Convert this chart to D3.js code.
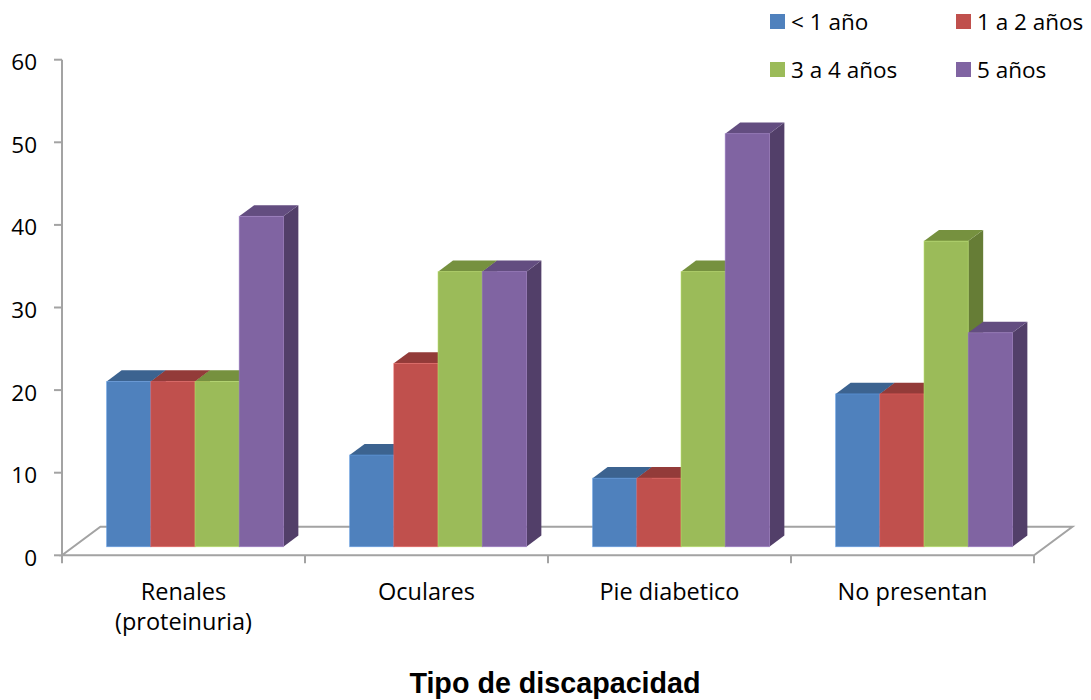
<!DOCTYPE html>
<html><head><meta charset="utf-8">
<script src="https://cdn.jsdelivr.net/npm/d3@7"></script>
<style>body{margin:0;background:#fff} svg{display:block}</style>
</head><body><svg id="c" width="1091" height="700"></svg>
<script>
// ---- data ----
const categories = ["Renales\n(proteinuria)", "Oculares", "Pie diabetico", "No presentan"];
const seriesNames = ["< 1 año", "1 a 2 años", "3 a 4 años", "5 años"];
const lessThan1 = [20, 11.1, 8.3, 18.5];
const from1to2 = [20, 22.2, 8.3, 18.5];
const from3to4 = [20, 33.3, 33.3, 37.0];
const years5 = [40, 33.3, 50, 25.9];
const yTicks = [0, 10, 20, 30, 40, 50, 60];
const axisTitle = "Tipo de discapacidad";

const seriesValues = [lessThan1, from1to2, from3to4, years5];
const frontCols = ["#4F81BD", "#C0504D", "#9BBB59", "#8064A2"];
const topCols = ["#3C6390", "#933B39", "#76913F", "#634D80"];
const sideCols = ["#375A84", "#863634", "#667D36", "#523F69"];

const svg = d3.select("#c");
const FONT = "'Open Sans', 'DejaVu Sans', sans-serif";

// geometry
const DX = 38.4, DY = 28.6;       // floor depth offset
const f0 = 0.30, f1 = 0.69;        // bar depth range (fraction of floor depth)

const y = d3.scaleLinear().domain([0, 60]).range([555.3, 59.7]);
const x = d3.scaleBand().domain(categories).range([62, 1034]).padding(0);
const xs = d3.scaleBand().domain(seriesNames).range([0, x.bandwidth()]).paddingInner(0).paddingOuter(0.75);

const grey = "#A3A3A3";

// floor
const fl = [[62, y(0)], [1034, y(0)], [1034 + DX, y(0) - DY], [62 + DX, y(0) - DY]];
svg.append("path").attr("d", "M" + fl.join("L") + "Z")
  .attr("fill", "none").attr("stroke", grey).attr("stroke-width", 2);

// y axis
svg.append("line").attr("x1", 62).attr("x2", 62).attr("y1", y(60)).attr("y2", y(0))
  .attr("stroke", grey).attr("stroke-width", 2);
const yt = svg.append("g");
yTicks.forEach(t => {
  yt.append("line").attr("x1", 54).attr("x2", 62).attr("y1", y(t)).attr("y2", y(t))
    .attr("stroke", grey).attr("stroke-width", 2);
  yt.append("text").attr("x", 37).attr("y", y(t) + 10.5).attr("text-anchor", "end")
    .attr("font-family", FONT).attr("font-size", 22.5).attr("fill", "#000").text(t);
});

// category ticks
const bounds = categories.map(c => x(c)).concat([x.range()[1]]);
bounds.forEach(b => {
  svg.append("line").attr("x1", b).attr("x2", b).attr("y1", y(0)).attr("y2", y(0) + 8)
    .attr("stroke", grey).attr("stroke-width", 2);
});

// bars
const bw = xs.bandwidth();
const ddx = (f1 - f0) * DX, ddy = (f1 - f0) * DY;
const bars = svg.append("g");
categories.forEach((c, ci) => {
  seriesNames.forEach((s, si) => {
    const v = seriesValues[si][ci];
    const L = x(c) + xs(s) + f0 * DX;
    const R = L + bw;
    const B = y(0) - f0 * DY;
    const T = y(v) - f0 * DY;
    // side
    bars.append("path").attr("d", `M${R},${B}L${R + ddx},${B - ddy}L${R + ddx},${T - ddy}L${R},${T}Z`)
      .attr("fill", sideCols[si]);
    // top
    bars.append("path").attr("d", `M${L},${T}L${R},${T}L${R + ddx},${T - ddy}L${L + ddx},${T - ddy}Z`)
      .attr("fill", topCols[si]);
    // front
    bars.append("rect").attr("x", L).attr("y", T).attr("width", bw).attr("height", B - T)
      .attr("fill", frontCols[si]).attr("stroke", d3.color(frontCols[si]).brighter(0.5)).attr("stroke-width", 0.8)
      .attr("stroke-opacity", 0.7);
  });
});

// category labels
categories.forEach(c => {
  const lines = c.split("\n");
  const t = svg.append("text").attr("text-anchor", "middle")
    .attr("font-family", FONT).attr("font-size", 23.5).attr("fill", "#000");
  lines.forEach((ln, i) => {
    t.append("tspan").attr("x", x(c) + x.bandwidth() / 2).attr("y", 600 + i * 30).text(ln);
  });
});

// axis title
svg.append("text").attr("x", 555).attr("y", 693).attr("text-anchor", "middle")
  .attr("font-family", "'Liberation Sans', Arial, sans-serif").attr("font-weight", "bold")
  .attr("font-size", 28.7).attr("fill", "#000").text(axisTitle);

// legend
const legPos = [[770, 14], [956, 14], [770, 62], [956, 62]];
seriesNames.forEach((s, i) => {
  const [lx, ly] = legPos[i];
  svg.append("rect").attr("x", lx).attr("y", ly).attr("width", 15).attr("height", 15).attr("fill", frontCols[i]);
  svg.append("text").attr("x", lx + 21).attr("y", ly + 15.5)
    .attr("font-family", FONT).attr("font-size", 22.5).attr("fill", "#000").text(s);
});
</script></body></html>
